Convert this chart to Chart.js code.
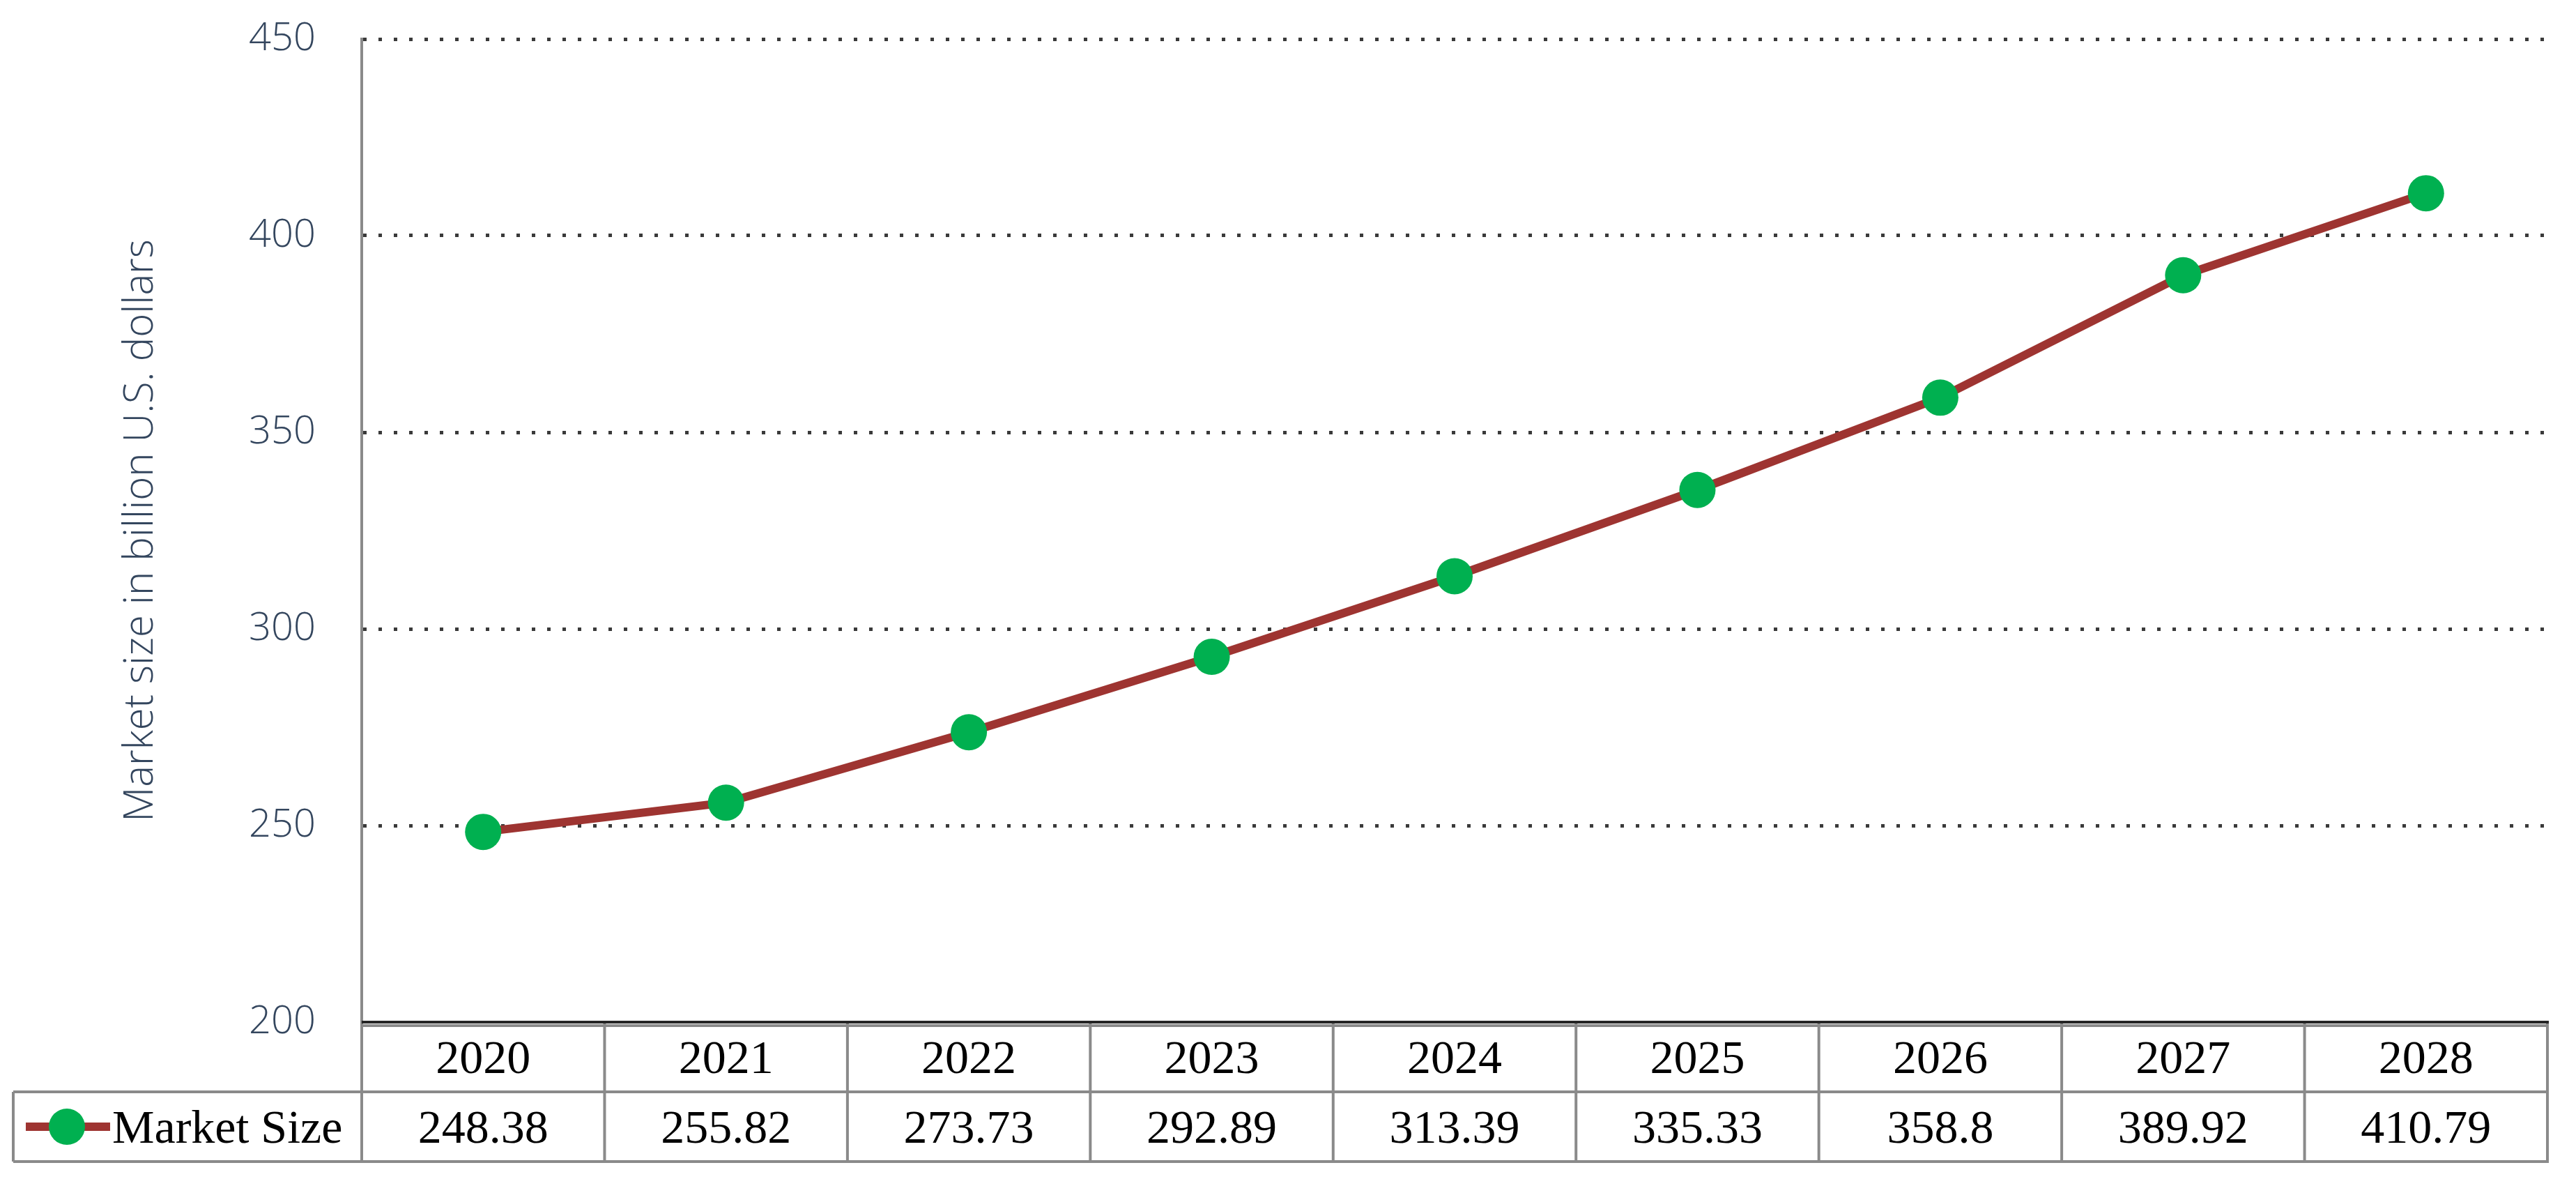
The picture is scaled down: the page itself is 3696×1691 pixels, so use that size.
<!DOCTYPE html>
<html>
<head>
<meta charset="utf-8">
<title>Market Size</title>
<script src="https://cdn.jsdelivr.net/npm/chart.js@4.4.1/dist/chart.umd.min.js"></script>
<style>
  html, body { margin: 0; padding: 0; background: #fff; }
  canvas { display: block; }
</style>
</head>
<body>
<canvas id="marketChart" width="3696" height="1691"></canvas>
<script>
// chart data
const years = ['2020', '2021', '2022', '2023', '2024', '2025', '2026', '2027', '2028'];
const marketSize = [248.38, 255.82, 273.73, 292.89, 313.39, 335.33, 358.8, 389.92, 410.79];
const seriesName = 'Market Size';
const axisTitle = 'Market size in billion U.S. dollars';

const lineColor = '#9E3431';
const markerColor = '#00B050';
const labelColor = '#34465E';
const borderGray = '#8a8a8a';

// draws the data table under the plot, using the x scale for columns
const dataTable = {
  id: 'dataTable',
  afterDraw(chart) {
    const ctx = chart.ctx;
    const x = chart.scales.x;
    const area = chart.chartArea;
    const top = area.bottom;
    const mid = top + 100;
    const bottom = top + 200;
    const legendLeft = 19;
    const n = chart.data.labels.length;

    // column edges from the scale
    const edges = [area.left];
    for (let i = 1; i < n; i++) {
      edges.push((x.getPixelForValue(i - 1) + x.getPixelForValue(i)) / 2);
    }
    edges.push(area.right);

    ctx.save();
    ctx.lineCap = 'butt';

    // grid of the table
    ctx.strokeStyle = borderGray;
    ctx.lineWidth = 4;
    ctx.beginPath();
    edges.forEach(e => { ctx.moveTo(e, top); ctx.lineTo(e, bottom); });
    ctx.moveTo(legendLeft, mid); ctx.lineTo(legendLeft, bottom);
    ctx.moveTo(legendLeft, mid); ctx.lineTo(area.right + 2, mid);
    ctx.moveTo(legendLeft, bottom); ctx.lineTo(area.right + 2, bottom);
    ctx.stroke();

    // double line at the base of the plot
    ctx.strokeStyle = '#262626';
    ctx.lineWidth = 4;
    ctx.beginPath();
    ctx.moveTo(area.left, top); ctx.lineTo(area.right + 2, top);
    ctx.stroke();
    ctx.strokeStyle = '#8a8a8a';
    ctx.beginPath();
    ctx.moveTo(area.left, top + 5); ctx.lineTo(area.right + 2, top + 5);
    ctx.stroke();

    // texts
    ctx.fillStyle = '#000';
    ctx.font = '68px "Liberation Serif", "Times New Roman", serif';
    ctx.textAlign = 'center';
    ctx.textBaseline = 'alphabetic';
    const values = chart.data.datasets[0].data;
    chart.data.labels.forEach((label, i) => {
      const cx = x.getPixelForValue(i);
      ctx.fillText(label, cx, top + 50 + 23);
      ctx.fillText(String(values[i]), cx, mid + 50 + 23);
    });

    // legend key in the first cell
    const ky = mid + 50;
    ctx.strokeStyle = lineColor;
    ctx.lineWidth = 12;
    ctx.beginPath();
    ctx.moveTo(37, ky); ctx.lineTo(158, ky);
    ctx.stroke();
    ctx.fillStyle = markerColor;
    ctx.beginPath();
    ctx.arc(96, ky, 26, 0, Math.PI * 2);
    ctx.fill();
    ctx.fillStyle = '#000';
    ctx.textAlign = 'left';
    ctx.fillText(chart.data.datasets[0].label, 161, ky + 23);

    ctx.restore();
  }
};

new Chart(document.getElementById('marketChart'), {
  type: 'line',
  data: {
    labels: years,
    datasets: [{
      label: seriesName,
      data: marketSize,
      borderColor: lineColor,
      borderWidth: 12,
      tension: 0,
      pointRadius: 26,
      pointHoverRadius: 26,
      pointBackgroundColor: markerColor,
      pointBorderWidth: 0,
      clip: false
    }]
  },
  options: {
    responsive: false,
    animation: false,
    devicePixelRatio: 1,
    layout: {
      padding: { left: 0, right: 41, top: 56, bottom: 225 }
    },
    plugins: {
      legend: { display: false },
      tooltip: { enabled: false }
    },
    scales: {
      x: {
        display: false,
        offset: true
      },
      y: {
        min: 200,
        max: 450,
        afterFit(scale) {
          scale.width = 519;
          scale.paddingTop = 0;
          scale.paddingBottom = 0;
        },
        ticks: {
          stepSize: 50,
          padding: 66,
          color: labelColor,
          font: { family: '"Open Sans", sans-serif', size: 56, weight: '300' }
        },
        grid: {
          drawTicks: false,
          lineWidth: 5,
          color: c => (c.tick && c.tick.value === 200) ? 'rgba(0,0,0,0)' : '#3a3a3a'
        },
        border: {
          display: true,
          color: '#8a8a8a',
          width: 4,
          dash: [5, 17]
        },
        title: {
          display: true,
          text: axisTitle,
          color: labelColor,
          padding: { top: 168, bottom: 0 },
          font: { family: '"Open Sans", sans-serif', size: 58, weight: '300' }
        }
      }
    }
  },
  plugins: [dataTable]
});
</script>
</body>
</html>
